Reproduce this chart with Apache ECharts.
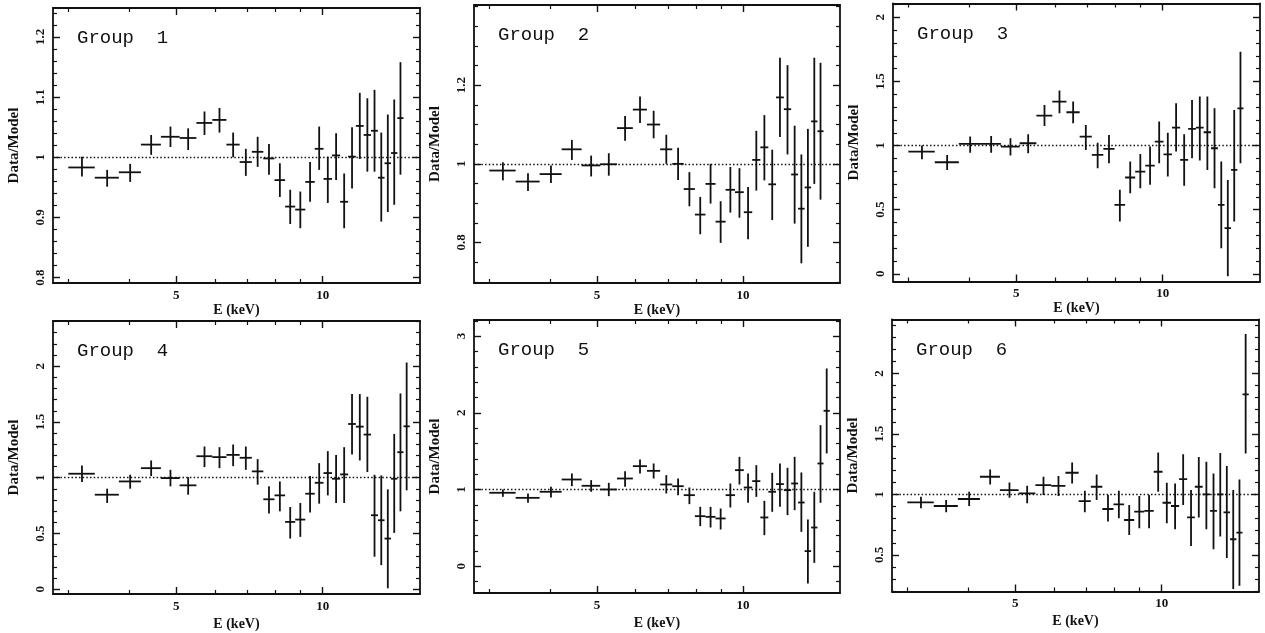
<!DOCTYPE html>
<html><head><meta charset="utf-8">
<script src="https://cdn.jsdelivr.net/npm/echarts@6/dist/echarts.min.js"></script>
<style>html,body{margin:0;padding:0;background:#fff;}#c{width:1265px;height:633px;}</style>
</head><body><div id="c"></div>
<script>
// ---------------- DATA ----------------
// energy bin edges (keV), shared by all groups
const binEdges = [3.0, 3.4, 3.81, 4.23, 4.65, 5.08, 5.5, 5.93, 6.34, 6.75, 7.15, 7.55, 7.96, 8.37, 8.78,
  9.21, 9.63, 10.04, 10.45, 10.86, 11.28, 11.7, 12.14, 12.57, 12.99, 13.4, 13.82, 14.24, 14.66, 15.1];

const groupNames = ['Group  1', 'Group  2', 'Group  3', 'Group  4', 'Group  5', 'Group  6'];
const xAxisName = 'E (keV)';
const yAxisName = 'Data/Model';
const xMajorTicks = [5, 10];
const xMinorTicks = [3, 4, 6, 7, 8, 9];

// Group 1
const g1Ratio = [0.983, 0.966, 0.975, 1.021, 1.034, 1.032, 1.057, 1.062, 1.021, 0.992, 1.009, 0.998, 0.962, 0.918,
  0.913, 0.959, 1.014, 0.964, 1.003, 0.926, 1.001, 1.052, 1.037, 1.044, 0.966, 0.99, 1.007, 1.065];
const g1Lo = [0.968, 0.951, 0.959, 1.004, 1.017, 1.012, 1.037, 1.041, 1.0, 0.969, 0.984, 0.971, 0.934, 0.889,
  0.882, 0.926, 0.979, 0.924, 0.962, 0.882, 0.948, 0.997, 0.976, 0.976, 0.893, 0.909, 0.921, 0.971];
const g1Hi = [1.001, 0.979, 0.989, 1.037, 1.051, 1.048, 1.076, 1.082, 1.041, 1.014, 1.034, 1.022, 0.99, 0.946,
  0.943, 0.992, 1.051, 1.001, 1.04, 0.973, 1.05, 1.107, 1.098, 1.112, 1.041, 1.071, 1.096, 1.158];
// Group 2
const g2Ratio = [0.983, 0.955, 0.974, 1.037, 0.996, 0.999, 1.091, 1.138, 1.1, 1.037, 1.0, 0.936, 0.871, 0.949,
  0.853, 0.934, 0.928, 0.877, 1.01, 1.042, 0.948, 1.169, 1.139, 0.973, 0.886, 0.94, 1.108, 1.083];
const g2Lo = [0.958, 0.931, 0.951, 1.01, 0.968, 0.97, 1.059, 1.104, 1.065, 1.0, 0.959, 0.892, 0.821, 0.899,
  0.799, 0.876, 0.863, 0.808, 0.932, 0.958, 0.857, 1.068, 1.024, 0.848, 0.747, 0.789, 0.949, 0.909];
const g2Hi = [1.004, 0.976, 0.996, 1.061, 1.021, 1.027, 1.122, 1.171, 1.135, 1.074, 1.041, 0.979, 0.916, 1.0,
  0.905, 0.992, 0.989, 0.941, 1.084, 1.124, 1.036, 1.27, 1.251, 1.097, 1.024, 1.089, 1.27, 1.257];
// Group 3
const g3Ratio = [0.953, 0.87, 1.013, 1.013, 0.992, 1.018, 1.234, 1.343, 1.26, 1.07, 0.927, 0.974, 0.538, 0.751,
  0.797, 0.844, 1.031, 0.932, 1.14, 0.888, 1.13, 1.14, 1.104, 0.979, 0.538, 0.356, 0.81, 1.29];
const g3Lo = [0.894, 0.81, 0.945, 0.945, 0.922, 0.94, 1.153, 1.252, 1.174, 0.966, 0.823, 0.862, 0.408, 0.629,
  0.668, 0.694, 0.862, 0.758, 0.953, 0.686, 0.901, 0.883, 0.81, 0.668, 0.2, -0.02, 0.408, 0.862];
const g3Hi = [1.0, 0.927, 1.07, 1.075, 1.057, 1.088, 1.317, 1.429, 1.343, 1.161, 1.023, 1.083, 0.655, 0.875,
  0.935, 0.992, 1.187, 1.101, 1.33, 1.088, 1.356, 1.382, 1.382, 1.291, 0.875, 0.732, 1.278, 1.732];
// Group 4
const g4Ratio = [1.036, 0.848, 0.967, 1.086, 0.997, 0.932, 1.193, 1.185, 1.205, 1.179, 1.057, 0.807, 0.842, 0.604,
  0.625, 0.857, 0.955, 1.042, 0.991, 1.03, 1.482, 1.458, 1.387, 0.664, 0.619, 0.455, 0.991, 1.229, 1.461];
const g4Lo = [0.961, 0.774, 0.902, 1.015, 0.923, 0.848, 1.095, 1.086, 1.104, 1.071, 0.938, 0.679, 0.699, 0.455,
  0.47, 0.688, 0.768, 0.842, 0.774, 0.774, 1.208, 1.155, 1.051, 0.292, 0.217, 0.009, 0.506, 0.699, 0.887];
const g4Hi = [1.11, 0.902, 1.027, 1.155, 1.071, 1.006, 1.28, 1.274, 1.298, 1.28, 1.167, 0.923, 0.967, 0.738,
  0.774, 1.015, 1.131, 1.238, 1.205, 1.274, 1.75, 1.75, 1.726, 1.027, 1.021, 0.896, 1.393, 1.756, 2.033];
// Group 5
const g5Ratio = [0.957, 0.891, 0.97, 1.13, 1.048, 1.0, 1.143, 1.304, 1.243, 1.065, 1.043, 0.926, 0.652, 0.643,
  0.622, 0.926, 1.252, 1.026, 1.109, 0.635, 0.97, 1.07, 0.991, 1.078, 0.83, 0.196, 0.504, 1.339, 2.026];
const g5Lo = [0.904, 0.826, 0.896, 1.043, 0.97, 0.913, 1.035, 1.209, 1.143, 0.948, 0.926, 0.809, 0.522, 0.504,
  0.478, 0.765, 1.065, 0.826, 0.904, 0.404, 0.709, 0.774, 0.665, 0.73, 0.448, -0.226, 0.043, 0.826, 1.47];
const g5Hi = [1.0, 0.948, 1.035, 1.209, 1.122, 1.087, 1.239, 1.391, 1.339, 1.187, 1.143, 1.026, 0.774, 0.774,
  0.752, 1.078, 1.426, 1.209, 1.317, 0.852, 1.217, 1.339, 1.283, 1.426, 1.222, 0.609, 0.97, 1.839, 2.578];
// Group 6
const g6Ratio = [0.934, 0.904, 0.962, 1.146, 1.036, 1.008, 1.077, 1.071, 1.179, 0.945, 1.063, 0.879, 0.918, 0.788,
  0.857, 0.863, 1.187, 0.931, 0.904, 1.126, 0.81, 1.063, 1.0, 0.863, 1.0, 0.852, 0.629, 0.684, 1.827];
const g6Lo = [0.885, 0.852, 0.904, 1.082, 0.973, 0.926, 0.995, 0.986, 1.091, 0.852, 0.953, 0.775, 0.802, 0.665,
  0.72, 0.72, 1.022, 0.761, 0.712, 0.912, 0.574, 0.808, 0.712, 0.547, 0.651, 0.473, 0.217, 0.245, 1.338];
const g6Hi = [0.981, 0.953, 1.022, 1.206, 1.099, 1.071, 1.146, 1.151, 1.264, 1.03, 1.165, 0.995, 1.03, 0.912,
  0.986, 0.995, 1.346, 1.096, 1.091, 1.332, 1.036, 1.31, 1.269, 1.173, 1.343, 1.234, 1.036, 1.124, 2.327];

const yMajorTicks = [
  [0.8, 0.9, 1, 1.1, 1.2],
  [0.8, 1, 1.2],
  [0, 0.5, 1, 1.5, 2],
  [0, 0.5, 1, 1.5, 2],
  [0, 1, 2, 3],
  [0.5, 1, 1.5, 2]
];

// ---------------- LAYOUT / STYLE ----------------
const panels = [
  {ratio: g1Ratio, lo: g1Lo, hi: g1Hi, grid: {left: 53, top: 8, width: 367, height: 275}, y: [0.791, 1.248], minor: 0.02, nameGap: 15},
  {ratio: g2Ratio, lo: g2Lo, hi: g2Hi, grid: {left: 474, top: 5, width: 366, height: 278}, y: [0.697, 1.404], minor: 0.05, nameGap: 15},
  {ratio: g3Ratio, lo: g3Lo, hi: g3Hi, grid: {left: 893, top: 3.5, width: 367, height: 278}, y: [-0.06, 2.108], minor: 0.1, nameGap: 15},
  {ratio: g4Ratio, lo: g4Lo, hi: g4Hi, grid: {left: 53, top: 321, width: 367, height: 273}, y: [-0.042, 2.405], minor: 0.1, nameGap: 23},
  {ratio: g5Ratio, lo: g5Lo, hi: g5Hi, grid: {left: 474, top: 320, width: 366, height: 273}, y: [-0.35, 3.21], minor: 0.2, nameGap: 23},
  {ratio: g6Ratio, lo: g6Lo, hi: g6Hi, grid: {left: 892, top: 319.5, width: 367, height: 272}, y: [0.197, 2.446], minor: 0.1, nameGap: 23}
];
const xLogRange = [Math.log10(2.79), Math.log10(15.85)];
const INK = '#111';
const SERIF = '"Liberation Serif", "DejaVu Serif", serif';
const MONO = '"Liberation Mono", "DejaVu Sans Mono", monospace';

function minorList(range, step, majors) {
  const out = [];
  const start = Math.ceil(range[0] / step - 1e-9);
  for (let k = start; k * step <= range[1] + 1e-9; k++) {
    const v = +(k * step).toFixed(4);
    if (!majors.some(m => Math.abs(m - v) < 1e-6)) out.push(v);
  }
  return out;
}
const fmtNum = v => String(+(+v).toFixed(2));

const grids = [], xAxes = [], yAxes = [], series = [], graphics = [];
const lineOn = {show: true, onZero: false, lineStyle: {color: INK, width: 1.8}};
const lineOff = {show: false, onZero: false};
panels.forEach((p, i) => {
  grids.push(Object.assign({containLabel: false}, p.grid));
  const xMajorLog = xMajorTicks.map(Math.log10);
  const xMinorLog = xMinorTicks.map(Math.log10);
  const xBase = {type: 'value', gridIndex: i, min: xLogRange[0], max: xLogRange[1], splitLine: {show: false}, z: 5};
  // bottom major
  xAxes.push(Object.assign({}, xBase, {
    position: 'bottom', axisLine: lineOn,
    axisTick: {show: true, inside: true, length: 7, customValues: xMajorLog, lineStyle: {color: INK, width: 1.4}},
    axisLabel: {show: true, customValues: xMajorLog, margin: 6, formatter: v => String(Math.round(Math.pow(10, v))),
      color: INK, fontFamily: SERIF, fontWeight: 'bold', fontSize: 13},
    name: xAxisName, nameLocation: 'middle', nameGap: p.nameGap,
    nameTextStyle: {color: INK, fontFamily: SERIF, fontWeight: 'bold', fontSize: 14}
  }));
  // bottom minor
  xAxes.push(Object.assign({}, xBase, {
    position: 'bottom', axisLine: lineOff,
    axisTick: {show: true, inside: true, length: 4, customValues: xMinorLog, lineStyle: {color: INK, width: 1.2}},
    axisLabel: {show: false}
  }));
  // top major
  xAxes.push(Object.assign({}, xBase, {
    position: 'top', axisLine: lineOn,
    axisTick: {show: true, inside: true, length: 7, customValues: xMajorLog, lineStyle: {color: INK, width: 1.4}},
    axisLabel: {show: false}
  }));
  // top minor
  xAxes.push(Object.assign({}, xBase, {
    position: 'top', axisLine: lineOff,
    axisTick: {show: true, inside: true, length: 4, customValues: xMinorLog, lineStyle: {color: INK, width: 1.2}},
    axisLabel: {show: false}
  }));

  const yMaj = yMajorTicks[i];
  const yMin = minorList(p.y, p.minor, yMaj);
  const yBase = {type: 'value', gridIndex: i, min: p.y[0], max: p.y[1], splitLine: {show: false}, z: 5};
  yAxes.push(Object.assign({}, yBase, {
    position: 'left', axisLine: lineOn,
    axisTick: {show: true, inside: true, length: 7, customValues: yMaj, lineStyle: {color: INK, width: 1.4}},
    axisLabel: {show: true, customValues: yMaj, rotate: 90, margin: 6, formatter: fmtNum,
      color: INK, fontFamily: SERIF, fontWeight: 'bold', fontSize: 13},
    name: yAxisName, nameLocation: 'middle', nameRotate: 90, nameGap: 31,
    nameTextStyle: {color: INK, fontFamily: SERIF, fontWeight: 'bold', fontSize: 15}
  }));
  yAxes.push(Object.assign({}, yBase, {
    position: 'left', axisLine: lineOff,
    axisTick: {show: true, inside: true, length: 4, customValues: yMin, lineStyle: {color: INK, width: 1.2}},
    axisLabel: {show: false}
  }));
  yAxes.push(Object.assign({}, yBase, {
    position: 'right', axisLine: lineOn,
    axisTick: {show: true, inside: true, length: 7, customValues: yMaj, lineStyle: {color: INK, width: 1.4}},
    axisLabel: {show: false}
  }));
  yAxes.push(Object.assign({}, yBase, {
    position: 'right', axisLine: lineOff,
    axisTick: {show: true, inside: true, length: 4, customValues: yMin, lineStyle: {color: INK, width: 1.2}},
    axisLabel: {show: false}
  }));

  const data = p.ratio.map((r, k) => {
    const eLo = binEdges[k], eHi = binEdges[k + 1];
    const eC = (eLo + eHi) / 2;
    return [Math.log10(eC), r, Math.log10(eLo), Math.log10(eHi), p.lo[k], p.hi[k]];
  });

  series.push({
    type: 'custom', xAxisIndex: 4 * i, yAxisIndex: 4 * i, clip: true, silent: true,
    data: data,
    renderItem: (params, api) => {
      const c = api.coord([api.value(0), api.value(1)]);
      const l = api.coord([api.value(2), api.value(1)]);
      const h = api.coord([api.value(3), api.value(1)]);
      const b = api.coord([api.value(0), api.value(4)]);
      const t = api.coord([api.value(0), api.value(5)]);
      const st = {stroke: INK, lineWidth: 1.8};
      return {type: 'group', children: [
        {type: 'line', shape: {x1: l[0], y1: c[1], x2: h[0], y2: c[1]}, style: st},
        {type: 'line', shape: {x1: c[0], y1: t[1], x2: c[0], y2: b[1]}, style: st}
      ]};
    },
    markLine: {
      silent: true, symbol: ['none', 'none'], label: {show: false},
      lineStyle: {color: INK, type: [1.5, 2.2], width: 1.3},
      data: [{yAxis: 1}]
    }
  });

  graphics.push({
    type: 'text', x: p.grid.left + 24, y: p.grid.top + 30,
    style: {text: groupNames[i], fill: INK, font: '19px ' + MONO, verticalAlign: 'middle', align: 'left'}
  });
});

const chart = echarts.init(document.getElementById('c'), null, {renderer: 'canvas'});
chart.setOption({
  animation: false,
  backgroundColor: '#fff',
  grid: grids, xAxis: xAxes, yAxis: yAxes, series: series, graphic: graphics
});
</script></body></html>
